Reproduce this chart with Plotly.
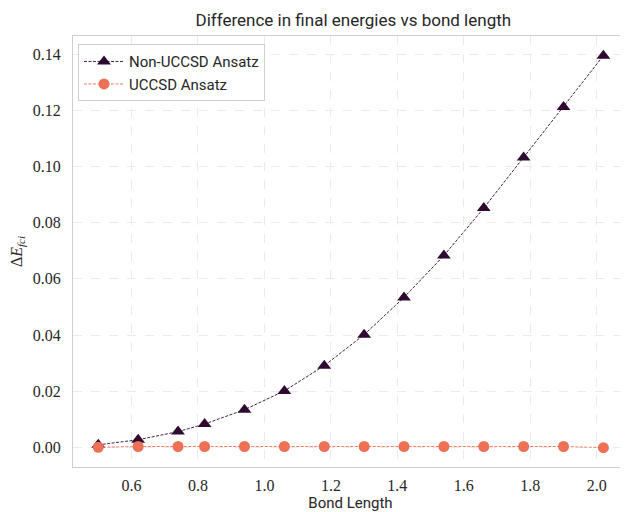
import plotly.graph_objects as go

bond_length = [0.5, 0.62, 0.74, 0.82, 0.94, 1.06, 1.18, 1.30, 1.42, 1.54, 1.66, 1.78, 1.90, 2.02]
delta_non_uccsd = [0.0009, 0.0027, 0.0056, 0.0083, 0.0134, 0.0201, 0.0291, 0.0401,
                   0.0534, 0.0683, 0.0852, 0.1032, 0.1212, 0.1395]
delta_uccsd = [0.0, 0.0003, 0.0003, 0.0003, 0.0003, 0.0003, 0.0003, 0.0003,
               0.0003, 0.0003, 0.0003, 0.0003, 0.0003, -0.0001]
x_ticks = [0.6, 0.8, 1.0, 1.2, 1.4, 1.6, 1.8, 2.0]
y_ticks = [0.00, 0.02, 0.04, 0.06, 0.08, 0.10, 0.12, 0.14]

dark = "#2e0a30"
coral = "#ee7156"

fig = go.Figure()
fig.add_trace(go.Scatter(
    x=bond_length, y=delta_non_uccsd, mode="lines+markers", name="Non-UCCSD Ansatz",
    line=dict(color=dark, width=0.9, dash="3px,1.5px"),
    marker=dict(symbol="triangle-up", size=12, color=dark),
))
fig.add_trace(go.Scatter(
    x=bond_length, y=delta_uccsd, mode="lines+markers", name="UCCSD Ansatz",
    line=dict(color=coral, width=0.9, dash="3px,1.5px"),
    marker=dict(symbol="circle", size=11, color=coral),
))

grid = dict(showgrid=True, gridcolor="#ebebeb", griddash="dash", gridwidth=1,
            showline=True, linecolor="#cfcfcf", linewidth=1, mirror=True,
            zeroline=False, ticks="")
sans = "Roboto, Lato, sans-serif"
serif = "Liberation Serif, serif"

fig.update_layout(
    width=620, height=504,
    margin=dict(l=65, r=0, t=28, b=45),
    paper_bgcolor="white", plot_bgcolor="white",
    title=dict(text="Difference in final energies vs bond length", x=0.557, xanchor="center",
               y=0.976, yanchor="middle", font=dict(family=sans, size=17, color="#262626")),
    xaxis=dict(range=[0.424, 2.094], tickvals=x_ticks, ticktext=[f"{v:.1f}" for v in x_ticks],
               tickfont=dict(family=serif, size=16, color="#262626"), ticklabelstandoff=4,
               title=dict(text="Bond Length", font=dict(family=sans, size=15, color="#262626"), standoff=8),
               **grid),
    yaxis=dict(range=[-0.0070, 0.1465], tickvals=y_ticks, ticktext=[f"{v:.2f}" for v in y_ticks],
               tickfont=dict(family=serif, size=16, color="#262626"), ticklabelstandoff=8,
               title=dict(text="Δ<i>E</i><sub><i>fci</i></sub>", font=dict(family=serif, size=16, color="#262626"), standoff=10),
               **grid),
    legend=dict(x=0.009, y=0.981, xanchor="left", yanchor="top", itemwidth=40,
                bgcolor="rgba(255,255,255,0.8)", bordercolor="#d0d0d0", borderwidth=1,
                font=dict(family=sans, size=15, color="#262626"), tracegroupgap=0),
    showlegend=True,
)

fig.write_html("out.html")
